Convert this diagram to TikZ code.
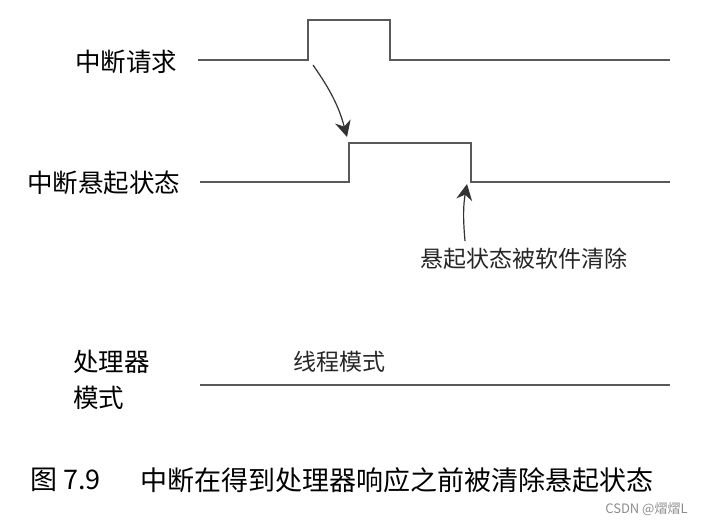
\documentclass[tikz,border=0pt]{standalone}
\usepackage{fontspec}
\setmainfont{Noto Sans CJK SC}
\usetikzlibrary{arrows.meta, positioning}

\begin{document}
\begin{tikzpicture}[x=0.5pt, y=-0.5pt,
        signal/.style={draw=black!65, line width=0.65pt},
        note/.style={-{Stealth[length=8pt, width=8pt]}, draw=black!80, line width=0.6pt},
        lbl/.style={anchor=west, inner sep=0pt, font=\fontsize{12.75}{15}\selectfont},
        remark/.style={anchor=west, inner sep=0pt, text=black!85, font=\fontsize{11.5}{13}\selectfont},
        caption/.style={anchor=west, inner sep=0pt, font=\fontsize{13.5}{16}\selectfont}
    ]
        \useasboundingbox (0,0) rectangle (702,525);

        % Interrupt request
        \node[lbl] (req) at (75,62) {中断请求};
        \coordinate (r0) at (198,60);
        \coordinate (r1) at (308,20);
        \coordinate (r2) at (390,60);
        \coordinate (r3) at (670,60);
        \draw[signal] (r0) -| (r1) -| (r2) -- (r3);

        % Pending state
        \node[lbl] (pend) at (27,183) {中断悬起状态};
        \coordinate (p0) at (200,182);
        \coordinate (p1) at (349,143);
        \coordinate (p2) at (471,182);
        \coordinate (p3) at (670,182);
        \draw[signal] (p0) -| (p1) -| (p2) -- (p3);

        % Request sets pending
        \coordinate (a1) at (313,65);
        \coordinate (b1) at (347,137);
        \draw[note] (a1) to[out=-55, in=105] (b1);

        % Cleared by software
        \node[remark] (clr) at (420,259) {悬起状态被软件清除};
        \coordinate (a2) at (465,241);
        \coordinate (b2) at (467,184);
        \draw[note] (a2) to[out=95, in=-100] (b2);

        % Processor mode
        \node[lbl] (cpu) at (73,362) {处理器};
        \node[lbl] (mode) at (73,398) {模式};
        \node[remark] (thread) at (293,362) {线程模式};
        \coordinate (m0) at (200,385);
        \coordinate (m1) at (670,385);
        \draw[signal] (m0) -- (m1);

        % Caption
        \node[caption] (fig) at (30,480) {图 7.9};
        \node[caption] (title) at (140,480) {中断在得到处理器响应之前被清除悬起状态};
        \node[anchor=east, inner sep=0pt, text=black!45, font=\fontsize{6.5}{8}\selectfont] (mark) at (688,509) {CSDN @熠熠L};
    \end{tikzpicture}
\end{document}
